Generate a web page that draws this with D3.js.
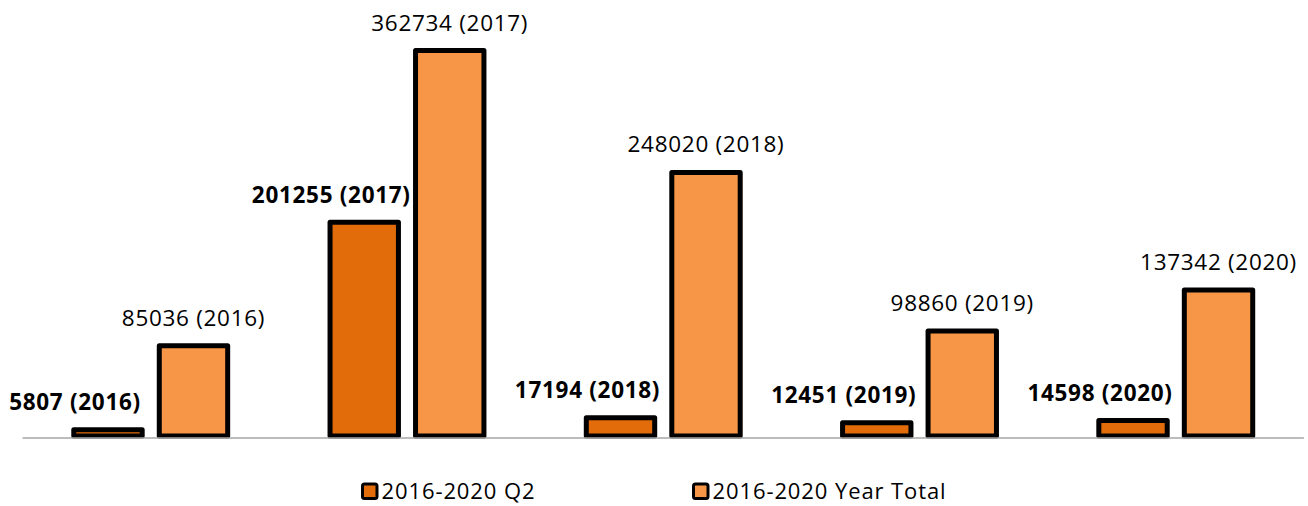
<!DOCTYPE html>
<html>
<head>
<meta charset="utf-8">
<script src="https://cdn.jsdelivr.net/npm/d3@7"></script>
<style>
  body { margin: 0; background: #fff; }
  text { font-family: "Open Sans", "Noto Sans", sans-serif; fill: #000; }
</style>
</head>
<body>
<div class="container"></div>
<script>
// datos
const years = ['2016', '2017', '2018', '2019', '2020'];
const seriesNames = ['2016-2020 Q2', '2016-2020 Year Total'];
const q2Values = [5807, 201255, 17194, 12451, 14598];
const totalValues = [85036, 362734, 248020, 98860, 137342];

const WIDTH = 1308;
const HEIGHT = 506;
const colors = ['#e36c0a', '#f79646'];

const svg = d3.select('.container')
  .append('svg')
    .attr('width', WIDTH)
    .attr('height', HEIGHT);

const x0 = d3.scaleBand().domain(years).range([22.6, 1303.9]);
const half = 85.5;
const x1 = d3.scaleBand()
  .domain(seriesNames)
  .range([x0.bandwidth() / 2 - half, x0.bandwidth() / 2 + half])
  .paddingInner(0.2)
  .paddingOuter(0.1);
const y = d3.scaleLinear().domain([0, 400000]).range([436, 11]);
const color = d3.scaleOrdinal().domain(seriesNames).range(colors);

const rows = years.map((yr, i) => ({
  year: yr,
  values: [
    { serie: seriesNames[0], value: q2Values[i] },
    { serie: seriesNames[1], value: totalValues[i] }
  ]
}));

const groups = svg.selectAll('.group')
  .data(rows)
  .enter().append('g')
    .attr('class', 'group')
    .attr('transform', d => `translate(${x0(d.year)}, 0)`);

groups.selectAll('rect')
  .data(d => d.values)
  .enter().append('rect')
    .attr('x', d => x1(d.serie))
    .attr('y', d => y(d.value))
    .attr('width', x1.bandwidth())
    .attr('height', d => y(0) - y(d.value))
    .attr('fill', d => color(d.serie))
    .attr('stroke', '#000')
    .attr('stroke-width', 5)
    .attr('stroke-linejoin', 'round');

// etiquetas: Q2 en negrita y corrida a la izquierda
groups.selectAll('.label')
  .data(d => d.values.map(v => Object.assign({ year: d.year }, v)))
  .enter().append('text')
    .attr('class', 'label')
    .attr('x', d => x1(d.serie) + x1.bandwidth() / 2 + (d.serie === seriesNames[0] ? -33 : 0))
    .attr('y', d => y(d.value) - (d.serie === seriesNames[0] ? 19.5 : 20))
    .attr('text-anchor', 'middle')
    .style('font-size', '22.5px')
    .style('letter-spacing', '0.7px')
    .style('font-weight', d => d.serie === seriesNames[0] ? 'bold' : 'normal')
    .text(d => `${d.value} (${d.year})`);

// eje x
svg.append('line')
  .attr('x1', x0.range()[0])
  .attr('x2', x0.range()[1])
  .attr('y1', y(0) + 2)
  .attr('y2', y(0) + 2)
  .attr('stroke', '#a6a6a6')
  .attr('stroke-width', 1.5);

// leyenda
const legend = svg.selectAll('.legend')
  .data(seriesNames)
  .enter().append('g')
    .attr('class', 'legend')
    .attr('transform', (d, i) => `translate(${362.5 + 331 * i}, 484)`);

legend.append('rect')
  .attr('width', 14.5)
  .attr('height', 14.5)
  .attr('rx', 2)
  .attr('fill', d => color(d))
  .attr('stroke', '#000')
  .attr('stroke-width', 3);

legend.append('text')
  .attr('x', 19)
  .attr('y', 15)
  .style('font-size', '22px')
  .style('letter-spacing', '0.9px')
  .text(d => d);
</script>
</body>
</html>
